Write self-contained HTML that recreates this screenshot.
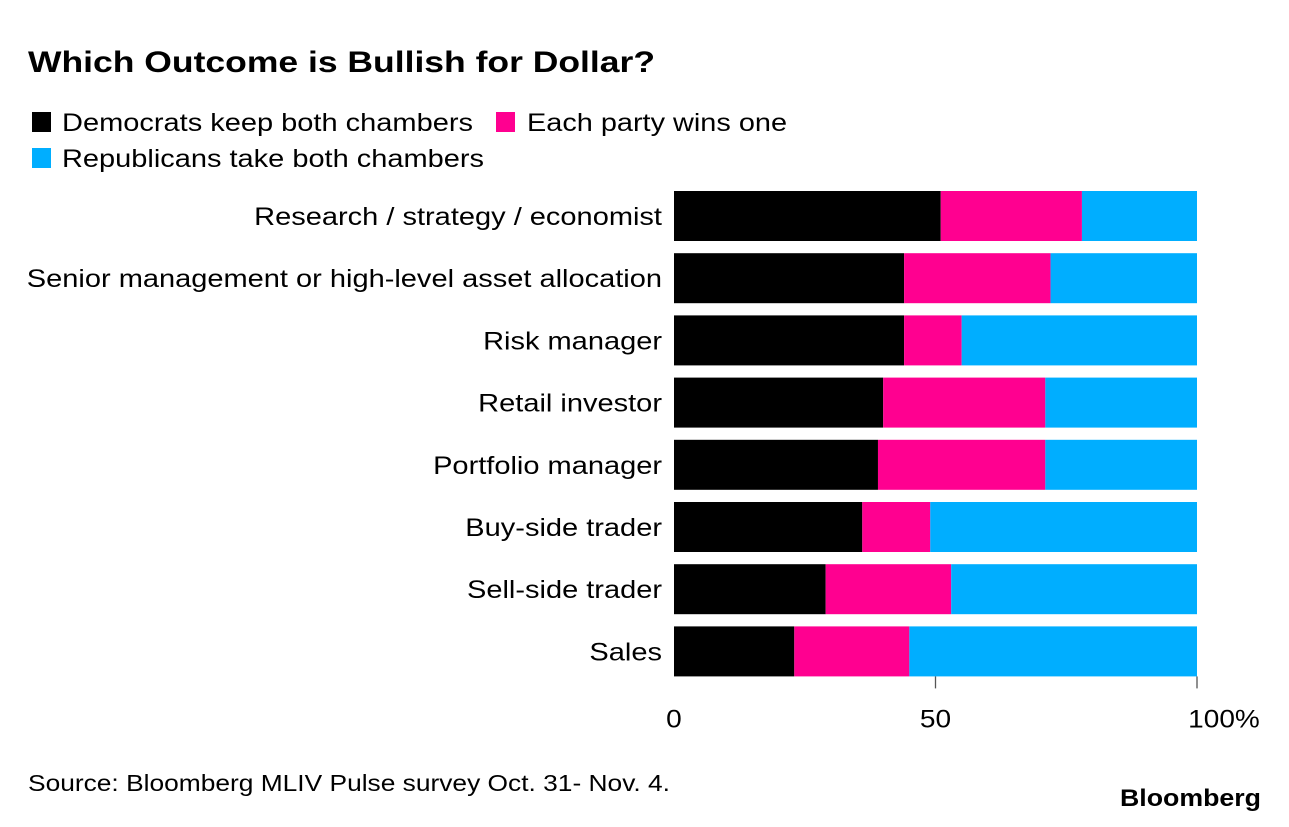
<!DOCTYPE html>
<html><head><meta charset="utf-8"><style>
body{margin:0;background:#fff;width:1289px;height:822px;overflow:hidden;font-family:"Liberation Sans",sans-serif}
</style></head><body>
<svg width="1289" height="822" font-family="Liberation Sans, sans-serif">
<text x="28" y="72" font-size="30" font-weight="bold" fill="#000" textLength="627" lengthAdjust="spacingAndGlyphs">Which Outcome is Bullish for Dollar?</text>
<g font-size="25" fill="#000">
<rect x="32" y="112" width="19" height="20" fill="#000"/>
<text x="62" y="131" textLength="411" lengthAdjust="spacingAndGlyphs">Democrats keep both chambers</text>
<rect x="496" y="112" width="19" height="20" fill="#ff0090"/>
<text x="527" y="131" textLength="260" lengthAdjust="spacingAndGlyphs">Each party wins one</text>
<rect x="32" y="148" width="19" height="20" fill="#00aeff"/>
<text x="62" y="167" textLength="422" lengthAdjust="spacingAndGlyphs">Republicans take both chambers</text>
</g>
<g id="plot"></g>
<text x="28" y="791" font-size="23" fill="#000" textLength="642" lengthAdjust="spacingAndGlyphs">Source: Bloomberg MLIV Pulse survey Oct. 31- Nov. 4.</text>
<text x="1120" y="806" font-size="24" font-weight="bold" fill="#000" textLength="141" lengthAdjust="spacingAndGlyphs">Bloomberg</text>
</svg>
<script>
const categories=["Research / strategy / economist","Senior management or high-level asset allocation","Risk manager","Retail investor","Portfolio manager","Buy-side trader","Sell-side trader","Sales"];
const democrats=[51,44,44,40,39,36,29,23];
const eachParty=[27,28,11,31,32,13,24,22];
const republicans=[22,28,45,29,29,51,47,55];
const tickValues=[0,50,100];
const tickLabels=["0","50","100%"];
const NS="http://www.w3.org/2000/svg";
const g=document.getElementById('plot');
const x0=674,x1=1197,yTop=191,pitch=62.2,bh=50;
const xs=v=>x0+(x1-x0)*v/100;
const ys=i=>yTop+i*pitch;
function mk(t,a){const e=document.createElementNS(NS,t);for(const k in a)e.setAttribute(k,a[k]);g.appendChild(e);return e;}
const series=[[democrats,"#000","democrats"],[eachParty,"#ff0090","each-party"],[republicans,"#00aeff","republicans"]];
categories.forEach((c,i)=>{
  let acc=0;
  series.forEach(([arr,col,nm])=>{
    const r=mk('rect',{x:xs(acc),y:ys(i),width:xs(acc+arr[i])-xs(acc),height:bh,fill:col});
    
    
    acc+=arr[i];
  });
  const t=mk('text',{x:662,y:ys(i)+bh/2+9,'font-size':25,'text-anchor':'end',fill:'#000'});
  t.textContent=c;
  
  
  const w=t.getComputedTextLength();
  t.setAttribute('textLength',(w*1.16).toFixed(1));
  t.setAttribute('lengthAdjust','spacingAndGlyphs');
});
const axisY=ys(categories.length-1)+bh;
tickValues.forEach((v,i)=>{
  if(v>0){
    const l=mk('line',{x1:xs(v),x2:xs(v),y1:axisY,y2:axisY+12,stroke:'#555','stroke-width':1.3});
    
    
  }
  const t=mk('text',{x:xs(v)+(i==2?27:0),y:axisY+51,'font-size':25,'text-anchor':'middle',fill:'#000'});
  t.textContent=tickLabels[i];
  
  
  const w=t.getComputedTextLength();
  t.setAttribute('textLength',(w*1.12).toFixed(1));
  t.setAttribute('lengthAdjust','spacingAndGlyphs');
});
</script>
</body></html>
